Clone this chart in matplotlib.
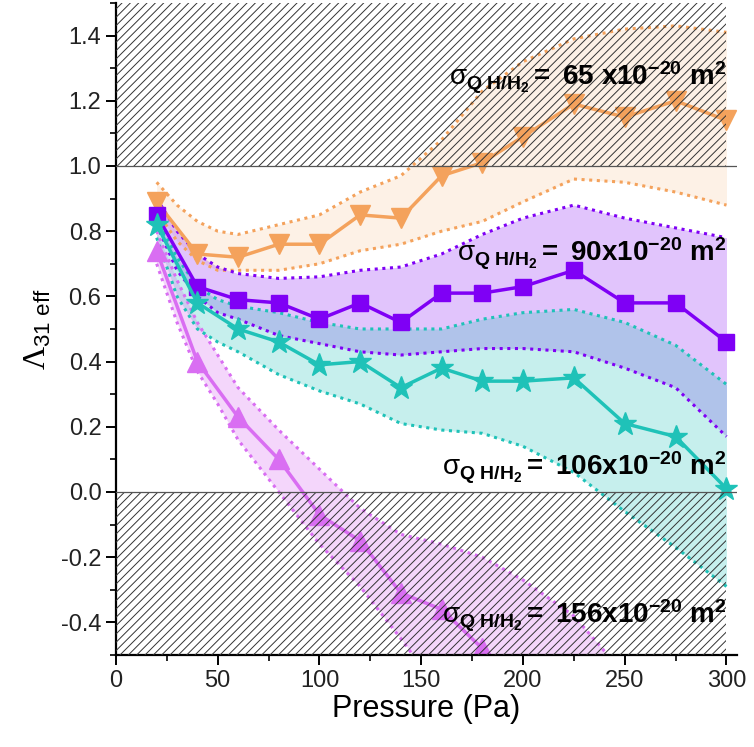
import matplotlib.pyplot as plt
from matplotlib.patches import Rectangle

plt.rcParams['font.family'] = ['Liberation Sans', 'DejaVu Sans']
plt.rcParams['mathtext.fontset'] = 'custom'
plt.rcParams['mathtext.rm'] = 'Liberation Sans'
plt.rcParams['mathtext.bf'] = 'Liberation Sans:bold'
plt.rcParams['mathtext.it'] = 'Liberation Sans:italic'
plt.rcParams['mathtext.sf'] = 'Liberation Serif'
plt.rcParams['hatch.linewidth'] = 0.7

# pressures of the measured points
pressure = [20, 40, 60, 80, 100, 120, 140, 160, 180, 200, 225, 250, 275, 300]

lam_65 = [0.89, 0.73, 0.72, 0.76, 0.76, 0.85, 0.84, 0.97, 1.01, 1.09, 1.19, 1.15, 1.20, 1.14]
lam_90 = [0.85, 0.63, 0.59, 0.58, 0.53, 0.58, 0.52, 0.61, 0.61, 0.63, 0.68, 0.58, 0.58, 0.46]
lam_106 = [0.82, 0.58, 0.50, 0.46, 0.39, 0.40, 0.32, 0.38, 0.34, 0.34, 0.35, 0.21, 0.17, 0.01]
lam_156 = [0.74, 0.40, 0.23, 0.10, -0.07, -0.15, -0.31, -0.36, -0.48]
pressure_156 = pressure[:9]

# uncertainty bands
band_p = [20, 30, 40, 50, 60, 80, 100, 120, 140, 160, 180, 200, 225, 250, 275, 300]
hi_65 = [0.95, 0.88, 0.83, 0.80, 0.79, 0.82, 0.85, 0.92, 0.97, 1.08, 1.23, 1.32, 1.39, 1.42, 1.43, 1.41]
lo_65 = [0.86, 0.77, 0.71, 0.68, 0.68, 0.68, 0.70, 0.74, 0.76, 0.80, 0.83, 0.89, 0.96, 0.95, 0.92, 0.88]
hi_90 = [0.90, 0.80, 0.73, 0.69, 0.67, 0.655, 0.66, 0.68, 0.69, 0.73, 0.79, 0.84, 0.88, 0.84, 0.81, 0.78]
lo_90 = [0.82, 0.68, 0.60, 0.55, 0.53, 0.48, 0.455, 0.43, 0.42, 0.43, 0.44, 0.44, 0.43, 0.38, 0.32, 0.17]
hi_106 = [0.84, 0.72, 0.63, 0.59, 0.57, 0.55, 0.52, 0.50, 0.50, 0.50, 0.53, 0.55, 0.56, 0.52, 0.45, 0.33]
lo_106 = [0.78, 0.60, 0.50, 0.46, 0.43, 0.36, 0.31, 0.27, 0.21, 0.19, 0.18, 0.14, 0.06, -0.06, -0.17, -0.29]
band_p156 = [20, 30, 40, 50, 60, 80, 100, 120, 140, 160, 180, 200, 225, 250]
hi_156 = [0.80, 0.65, 0.52, 0.42, 0.32, 0.19, 0.07, -0.05, -0.13, -0.16, -0.20, -0.27, -0.38, -0.56]
lo_156 = [0.70, 0.52, 0.37, 0.27, 0.16, 0.00, -0.16, -0.29, -0.45, -0.62, -0.75, -0.85, -0.95, -1.00]

c_or = '#f4a25c'
c_pu = '#7f00f5'
c_cy = '#1fc2b8'
c_ma = '#d96ef2'

fig = plt.figure(figsize=(7.54, 7.47), dpi=100)
ax = fig.add_axes([0.1538, 0.1232, 0.8232, 0.8728])

ax.fill_between(band_p, lo_65, hi_65, color=c_or, alpha=0.15, lw=0)
ax.fill_between(band_p, lo_90, hi_90, color=c_pu, alpha=0.23, lw=0)
ax.fill_between(band_p, lo_106, hi_106, color=c_cy, alpha=0.25, lw=0)
ax.fill_between(band_p156, lo_156, hi_156, color=c_ma, alpha=0.28, lw=0)

for p, y, c in [(band_p, hi_65, c_or), (band_p, lo_65, c_or),
                (band_p, hi_90, c_pu), (band_p, lo_90, c_pu),
                (band_p, hi_106, c_cy), (band_p, lo_106, c_cy),
                (band_p156, hi_156, c_ma), (band_p156, lo_156, c_ma)]:
    ax.plot(p, y, ls=(0, (1, 1.5)), color=c, lw=2.2)

ax.plot(pressure, lam_65, '-v', color=c_or, lw=2.5, ms=15)
ax.plot(pressure, lam_90, '-s', color=c_pu, lw=2.5, ms=12)
ax.plot(pressure, lam_106, '-*', color=c_cy, lw=2.5, ms=17)
ax.plot(pressure_156, lam_156, '-^', color=c_ma, lw=2.5, ms=14)

# hatched forbidden regions
ax.add_patch(Rectangle((0, 1.0), 300, 0.5, fill=False, hatch='////',
                       edgecolor='#333333', lw=0, zorder=5))
ax.add_patch(Rectangle((0, -0.5), 300, 0.5, fill=False, hatch='////',
                       edgecolor='#333333', lw=0, zorder=5))
ax.axhline(1.0, color='#555555', lw=0.9, zorder=6)
ax.axhline(0.0, color='#555555', lw=0.9, zorder=6)

labels = [(1.27, r'=\ 65\ x10^{-20}'), (0.73, r'=\ 90x10^{-20}'),
          (0.075, r'=\ 106x10^{-20}'), (-0.38, r'=\ 156x10^{-20}')]
for yv, val in labels:
    ax.text(300, yv, r'$\mathrm{\sigma}_{\mathbf{Q\ H/H_2}}\mathbf{' + val + r'\ m^2}$',
            ha='right', va='center', fontsize=20, zorder=10)

ax.set_xlim(0, 305)
ax.set_ylim(-0.5, 1.5)
ax.set_xticks([0, 50, 100, 150, 200, 250, 300])
ax.set_xticks([25, 75, 125, 175, 225, 275], minor=True)
ax.set_yticks([-0.4, -0.2, 0.0, 0.2, 0.4, 0.6, 0.8, 1.0, 1.2, 1.4])
ax.set_yticks([-0.5, -0.3, -0.1, 0.1, 0.3, 0.5, 0.7, 0.9, 1.1, 1.3, 1.5], minor=True)
ax.yaxis.set_major_formatter(plt.FormatStrFormatter('%.1f'))
ax.spines['top'].set_visible(False)
ax.spines['right'].set_visible(False)
ax.spines['left'].set_linewidth(1.6)
ax.spines['bottom'].set_linewidth(1.6)
ax.tick_params(which='major', length=7, width=1.4, labelsize=17, labelcolor='#222222')
ax.tick_params(which='minor', length=4, width=1.2)

ax.set_xlabel('Pressure (Pa)', fontsize=22, labelpad=2)
ax.set_ylabel(r'$\mathsf{\Lambda}_{\mathrm{31\ eff}}$', fontsize=23, labelpad=6)

fig.savefig('out.png', dpi=100)
